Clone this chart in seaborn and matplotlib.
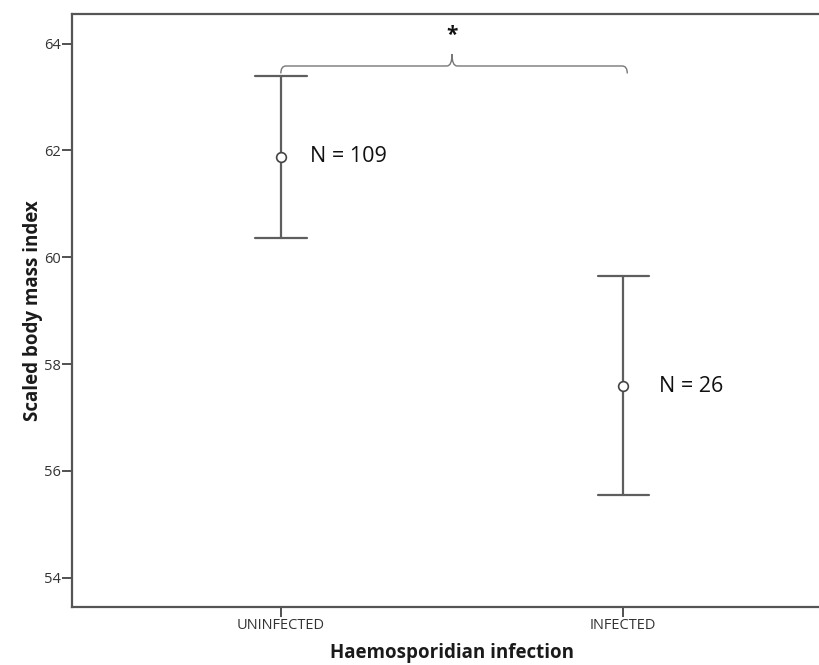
"""
Scaled body mass index by haemosporidian infection status
(mean with 95% CI, SPSS-style error bar chart).
"""

import matplotlib
matplotlib.use("Agg")
import matplotlib.pyplot as plt
from matplotlib.path import Path
from matplotlib.patches import PathPatch
import seaborn as sns
import pandas as pd

# values
groups = ["UNINFECTED", "INFECTED"]
means = [61.88, 57.59]
ci_low = [60.36, 55.55]
ci_high = [63.39, 59.64]
n_labels = ["N = 109", "N = 26"]
y_ticks = [54, 56, 58, 60, 62, 64]
signif = "*"

sns.set_style("ticks")
plt.rcParams["font.family"] = ["Open Sans", "DejaVu Sans"]

# long-form table: median of (low, mean, high) is the mean, min/max are the CI
rows = []
for g, lo, m, hi in zip(groups, ci_low, means, ci_high):
    for v in (lo, m, hi):
        rows.append({"infection": g, "sbmi": v})
df = pd.DataFrame(rows)

GREY = "#5e5e5e"

fig = plt.figure(figsize=(8.19, 6.65), dpi=100)
ax = fig.add_axes([0.0879, 0.0877, 0.928, 0.891])

sns.pointplot(
    data=df, x="infection", y="sbmi", order=groups,
    estimator="median", errorbar=("pi", 100),
    capsize=0.15, linestyle="none", marker="o",
    markersize=7, markerfacecolor="white", markeredgewidth=1.2,
    color=GREY, err_kws={"linewidth": 1.6}, ax=ax,
)
for line in ax.lines:
    if line.get_marker() == "o":
        line.set_zorder(5)
        line.set_markeredgecolor("#444444")

ax.set_xlim(-0.61, 1.61)
ax.set_ylim(53.46, 64.55)
ax.set_yticks(y_ticks)

# N labels next to each mean
offsets = [0.086, 0.105]
for i, (m, lab) in enumerate(zip(means, n_labels)):
    ax.text(i + offsets[i], m, lab, ha="left", va="center",
            fontsize=15.5, color="#111111")

# significance brace between the two groups
y0 = max(ci_high) + 0.19
dx = 0.015
mid = 0.5
right = 1.012
tip = y0 + 0.22
verts = [
    (0, y0 - 0.14), (0, y0), (dx, y0),
    (mid - dx, y0), (mid, y0), (mid, tip),
    (mid, y0), (mid + dx, y0),
    (right - dx, y0), (right, y0), (right, y0 - 0.14),
]
codes = [
    Path.MOVETO, Path.CURVE3, Path.CURVE3,
    Path.LINETO, Path.CURVE3, Path.CURVE3,
    Path.CURVE3, Path.CURVE3,
    Path.LINETO, Path.CURVE3, Path.CURVE3,
]
ax.add_patch(PathPatch(Path(verts, codes), fill=False, edgecolor="#777777",
                       linewidth=1.0, clip_on=False))
ax.text(mid, y0 + 0.58, signif, ha="center", va="center",
        fontsize=15, fontweight="bold", color="#111111")

ax.set_xlabel("Haemosporidian infection", fontsize=13.5, fontweight="bold",
              color="#1a1a1a", labelpad=7)
ax.set_ylabel("Scaled body mass index", fontsize=13.5, fontweight="bold",
              color="#1a1a1a", labelpad=1)

ax.tick_params(axis="both", direction="out", length=7, width=1.2,
               color="#333333", labelsize=10.5, labelcolor="#333333", pad=1)
for side in ("left", "bottom", "top"):
    ax.spines[side].set_visible(True)
    ax.spines[side].set_linewidth(1.6)
    ax.spines[side].set_color("#555555")
ax.spines["right"].set_visible(False)

fig.savefig("out.png", dpi=100)
plt.close(fig)
